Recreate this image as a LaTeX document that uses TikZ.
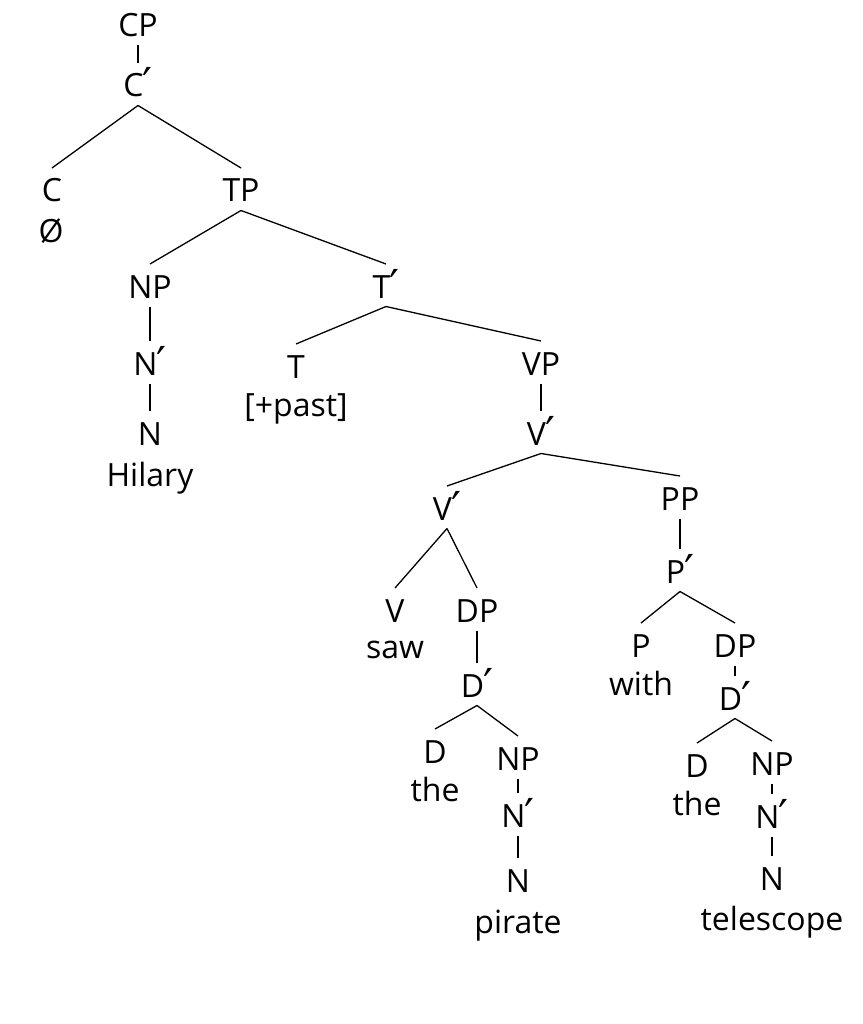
\documentclass[tikz,border=0pt]{standalone}
\usepackage{fontspec}
\setmainfont{Open Sans}
\newfontfamily\primefont{DejaVu Sans}
\newcommand{\pr}{\kern-1pt\raisebox{-3pt}{\fontsize{44}{44}\primefont ′}}
\begin{document}
\begin{tikzpicture}[x=1pt,y=-1pt,
  cat/.style={inner sep=0pt, outer sep=0pt, text height=34pt, text depth=8.5pt, anchor=base, font=\fontsize{32}{36}\selectfont},
  word/.style={inner sep=0pt, outer sep=0pt, anchor=base, font=\fontsize{32}{36}\selectfont},
  br/.style={line width=1.3pt, line cap=butt}]
\useasboundingbox[fill=white] (0,0) rectangle (862,1024);
% nodes
\node[cat] (cp) at (138,37) {CP};
\node[cat] (c1) at (138,97) {C\pr};
\node[cat] (c) at (52,202) {C};
\node[word] (cw) at (51,242) {Ø};
\node[cat] (tp) at (241,202) {TP};
\node[cat] (np1) at (150,298) {NP};
\node[cat] (n11) at (150,375) {N\pr};
\node[cat] (n1) at (150,445) {N};
\node[word] (hil) at (150,486) {Hilary};
\node[cat] (t1) at (386,298) {T\pr};
\node[cat] (t) at (296,378) {T};
\node[word] (past) at (296,416) {[+past]};
\node[cat] (vp) at (541,375) {VP};
\node[cat] (v1) at (541,445) {V\pr};
\node[cat] (v2) at (447,520) {V\pr};
\node[cat] (pp) at (680,510) {PP};
\node[cat] (v) at (395,622) {V};
\node[word] (saw) at (395,658) {saw};
\node[cat] (dp1) at (477,622) {DP};
\node[cat] (d11) at (477,697) {D\pr};
\node[cat] (d1) at (435,763) {D};
\node[word] (the1) at (435,801) {the};
\node[cat] (np2) at (518,770) {NP};
\node[cat] (n21) at (518,827) {N\pr};
\node[cat] (n2) at (518,892) {N};
\node[word] (pir) at (518,933) {pirate};
\node[cat] (p1) at (680,583) {P\pr};
\node[cat] (p) at (641,657) {P};
\node[word] (with) at (641,695) {with};
\node[cat] (dp2) at (735,657) {DP};
\node[cat] (d21) at (735,710) {D\pr};
\node[cat] (d2) at (697,777) {D};
\node[word] (the2) at (697,815) {the};
\node[cat] (np3) at (772,775) {NP};
\node[cat] (n31) at (772,828) {N\pr};
\node[cat] (n3) at (772,890) {N};
\node[word] (tel) at (772,930) {telescope};
% edges
\draw[br] (cp.south) -- (c1.north);
\draw[br] (c1.south) -- (c.north);
\draw[br] (c1.south) -- (tp.north);
\draw[br] (tp.south) -- (np1.north);
\draw[br] (tp.south) -- (t1.north);
\draw[br] (np1.south) -- (n11.north);
\draw[br] (n11.south) -- (n1.north);
\draw[br] (t1.south) -- (t.north);
\draw[br] (t1.south) -- (vp.north);
\draw[br] (vp.south) -- (v1.north);
\draw[br] (v1.south) -- (v2.north);
\draw[br] (v1.south) -- (pp.north);
\draw[br] (v2.south) -- (v.north);
\draw[br] (v2.south) -- (dp1.north);
\draw[br] (dp1.south) -- (d11.north);
\draw[br] (d11.south) -- (d1.north);
\draw[br] (d11.south) -- (np2.north);
\draw[br] (np2.south) -- (n21.north);
\draw[br] (n21.south) -- (n2.north);
\draw[br] (pp.south) -- (p1.north);
\draw[br] (p1.south) -- (p.north);
\draw[br] (p1.south) -- (dp2.north);
\draw[br] (dp2.south) -- (d21.north);
\draw[br] (d21.south) -- (d2.north);
\draw[br] (d21.south) -- (np3.north);
\draw[br] (np3.south) -- (n31.north);
\draw[br] (n31.south) -- (n3.north);
\end{tikzpicture}
\end{document}
